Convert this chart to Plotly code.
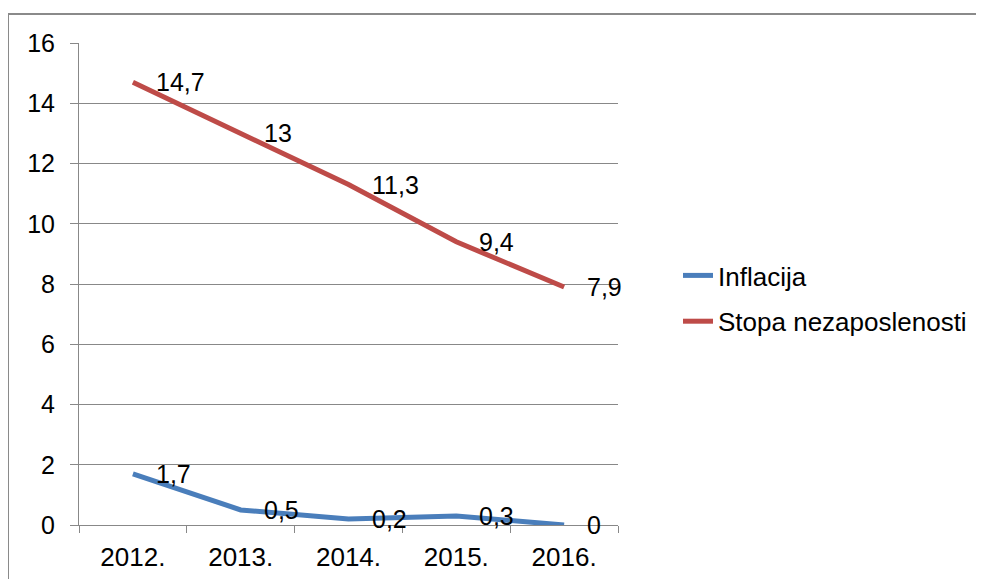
import plotly.graph_objects as go

categories = ["2012.", "2013.", "2014.", "2015.", "2016."]
inflacija = [1.7, 0.5, 0.2, 0.3, 0]
nezaposlenost = [14.7, 13, 11.3, 9.4, 7.9]
y_ticks = [0, 2, 4, 6, 8, 10, 12, 14, 16]

BLUE = "#4A7EBB"
RED = "#BE4B48"
GRID = "#888888"
FONT = "Liberation Sans, Arial, sans-serif"
FS = 25

def fmt(v):
    return str(v).replace(".", ",")

fig = go.Figure()
fig.add_trace(go.Scatter(x=categories, y=inflacija, mode="lines", name="Inflacija",
                         line=dict(color=BLUE, width=5), legendgroup="a"))
fig.add_trace(go.Scatter(x=categories, y=nezaposlenost, mode="lines", name="Stopa nezaposlenosti",
                         line=dict(color=RED, width=5), legendgroup="b"))

annotations = []
for series in (inflacija, nezaposlenost):
    for i, v in enumerate(series):
        annotations.append(dict(x=i, y=v, xref="x", yref="y", text=fmt(v), showarrow=False,
                                xanchor="left", yanchor="middle", xshift=21,
                                font=dict(family=FONT, size=FS, color="black")))

# page body has an 8px margin: figure coords = viewport coords - 8
W, H = 976, 571
ML, MT = 79 - 8, 43 - 8
MR = W - (618 - 8)
MB = H - (525 - 8)
PW, PH = W - ML - MR, H - MT - MB

def px(xv):  # viewport x -> paper
    return (xv - 8 - ML) / PW

def py(yv):  # viewport y -> paper
    return (525 - yv) / PH

fig.update_layout(
    width=W, height=H,
    margin=dict(l=ML, r=MR, t=MT, b=MB, pad=0, autoexpand=False),
    paper_bgcolor="white", plot_bgcolor="white",
    font=dict(family=FONT, size=FS, color="black"),
    annotations=annotations,
    showlegend=True,
    legend=dict(x=px(678), y=py(298.5), xanchor="left", yanchor="middle",
                font=dict(family=FONT, size=26, color="black"),
                tracegroupgap=9, traceorder="grouped", bgcolor="rgba(0,0,0,0)"),
    shapes=[dict(type="rect", xref="paper", yref="paper",
                 x0=px(8), x1=px(1010), y0=py(620), y1=py(14),
                 line=dict(color="#8a8a8a", width=2), layer="below")],
)
fig.update_xaxes(type="category", range=[-0.5, 4.5], showgrid=False, showline=True,
                 linecolor=GRID, linewidth=1, ticks="outside", tickson="boundaries",
                 ticklen=7, tickcolor=GRID, tickwidth=1, ticklabelstandoff=9,
                 automargin=False,
                 tickfont=dict(family=FONT, size=26, color="black"), zeroline=False)
fig.update_yaxes(range=[0, 16], tickvals=y_ticks, showgrid=True, gridcolor=GRID, gridwidth=1,
                 showline=True, linecolor=GRID, linewidth=1, ticks="outside", ticklen=8,
                 tickcolor=GRID, tickwidth=1, ticklabelstandoff=10, zeroline=False,
                 automargin=False,
                 tickfont=dict(family=FONT, size=FS, color="black"))

fig.write_html("out.html")
